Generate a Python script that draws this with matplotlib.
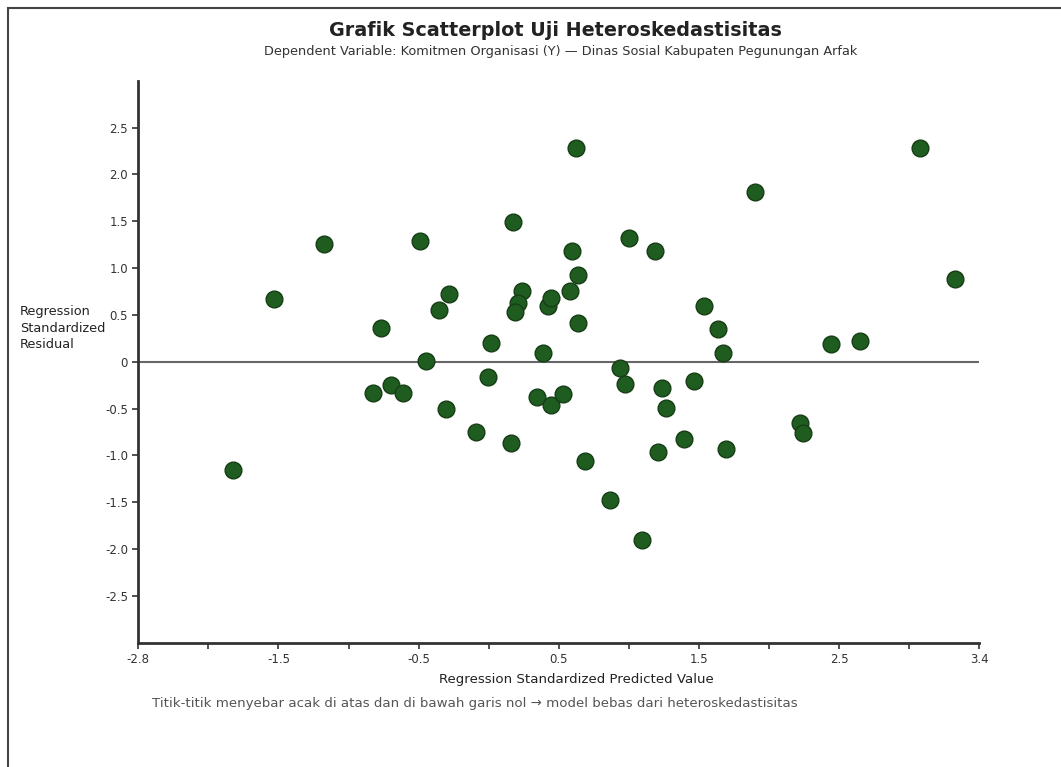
import numpy as np
import matplotlib.pyplot as plt
from matplotlib.patches import Rectangle

# standardized predicted values (x) and standardized residuals (y)
pred = [-2.10, -1.80, -1.43, -1.01, -1.07, -0.94, -0.85, -0.72, -0.68, -0.58,
        -0.51, -0.53, -0.31, -0.22, -0.20, -0.04, -0.05, 0.03, 0.00, -0.02,
        0.14, 0.18, 0.22, 0.24, 0.24, 0.33, 0.38, 0.40, 0.43, 0.44,
        0.44, 0.49, 0.68, 0.75, 0.79, 0.82, 0.91, 1.01, 1.03, 1.06,
        1.09, 1.22, 1.30, 1.37, 1.47, 1.51, 1.53, 1.75, 2.08, 2.10,
        2.31, 2.52, 2.96, 3.22]
resid = [-1.16, 0.67, 1.26, 0.36, -0.33, -0.25, -0.33, 1.29, 0.01, 0.55,
         0.72, -0.51, -0.75, -0.16, 0.20, 1.49, -0.87, 0.76, 0.63, 0.53,
         -0.38, 0.09, 0.59, 0.68, -0.46, -0.34, 0.75, 1.18, 2.28, 0.93,
         0.41, -1.06, -1.48, -0.07, -0.24, 1.32, -1.90, 1.18, -0.96, -0.28,
         -0.49, -0.83, -0.21, 0.60, 0.35, 0.09, -0.93, 1.81, -0.65, -0.76,
         0.19, 0.22, 2.28, 0.88]

x_ticks = np.linspace(-2.8, 3.4, 13)
x_tick_labels = ['-2.8', '', '-1.5', '', '-0.5', '', '0.5', '', '1.5', '', '2.5', '', '3.4']
y_ticks = [2.5, 2.0, 1.5, 1.0, 0.5, 0, -0.5, -1.0, -1.5, -2.0, -2.5]
y_tick_labels = ['2.5', '2.0', '1.5', '1.0', '0.5', '0', '-0.5', '-1.0', '-1.5', '-2.0', '-2.5']

W, H = 1061, 767
fig = plt.figure(figsize=(W / 100, H / 100), dpi=100)
ax = fig.add_axes([138.3 / W, 1 - 642.7 / H, 841 / W, 562 / H])

# border round the figure (only top and left show)
fig.patches.append(Rectangle((8 / W, -0.1), 2, 1.1 - 8 / H, transform=fig.transFigure,
                             fill=False, edgecolor='#444444', linewidth=1.5))

ax.axhline(0, color='#666666', linewidth=1.5, zorder=1)
ax.scatter(pred, resid, s=145, color='#1f5c1f', edgecolor='#163d16', linewidth=1, zorder=3)

ax.set_xlim(-2.8, 3.4)
ax.set_ylim(-3, 3)
ax.set_xticks(x_ticks)
ax.set_xticklabels(x_tick_labels)
ax.set_yticks(y_ticks)
ax.set_yticklabels(y_tick_labels)
ax.tick_params(labelsize=8.5, colors='#333333', length=4, width=1.2)

for s in ['top', 'right']:
    ax.spines[s].set_visible(False)
for s in ['left', 'bottom']:
    ax.spines[s].set_color('#333333')
    ax.spines[s].set_linewidth(2)

fig.text(555 / W, 1 - 30 / H, 'Grafik Scatterplot Uji Heteroskedastisitas', ha='center', va='center',
         fontsize=13.8, fontweight='bold', color='#222222')
fig.text(561 / W, 1 - 52 / H,
         'Dependent Variable: Komitmen Organisasi (Y) \u2014 Dinas Sosial Kabupaten Pegunungan Arfak',
         ha='center', va='center', fontsize=9.3, color='#333333')
fig.text(576 / W, 1 - 680 / H, 'Regression Standardized Predicted Value', ha='center', va='center',
         fontsize=9.6, color='#222222')
fig.text(152 / W, 1 - 703 / H,
         'Titik-titik menyebar acak di atas dan di bawah garis nol \u2192 model bebas dari heteroskedastisitas',
         ha='left', va='center', fontsize=9.6, color='#555555')
fig.text(20 / W, 1 - 328 / H, 'Regression\nStandardized\nResidual', ha='left', va='center',
         fontsize=9.3, color='#222222', linespacing=1.35)

fig.savefig('out.png', dpi=100)
